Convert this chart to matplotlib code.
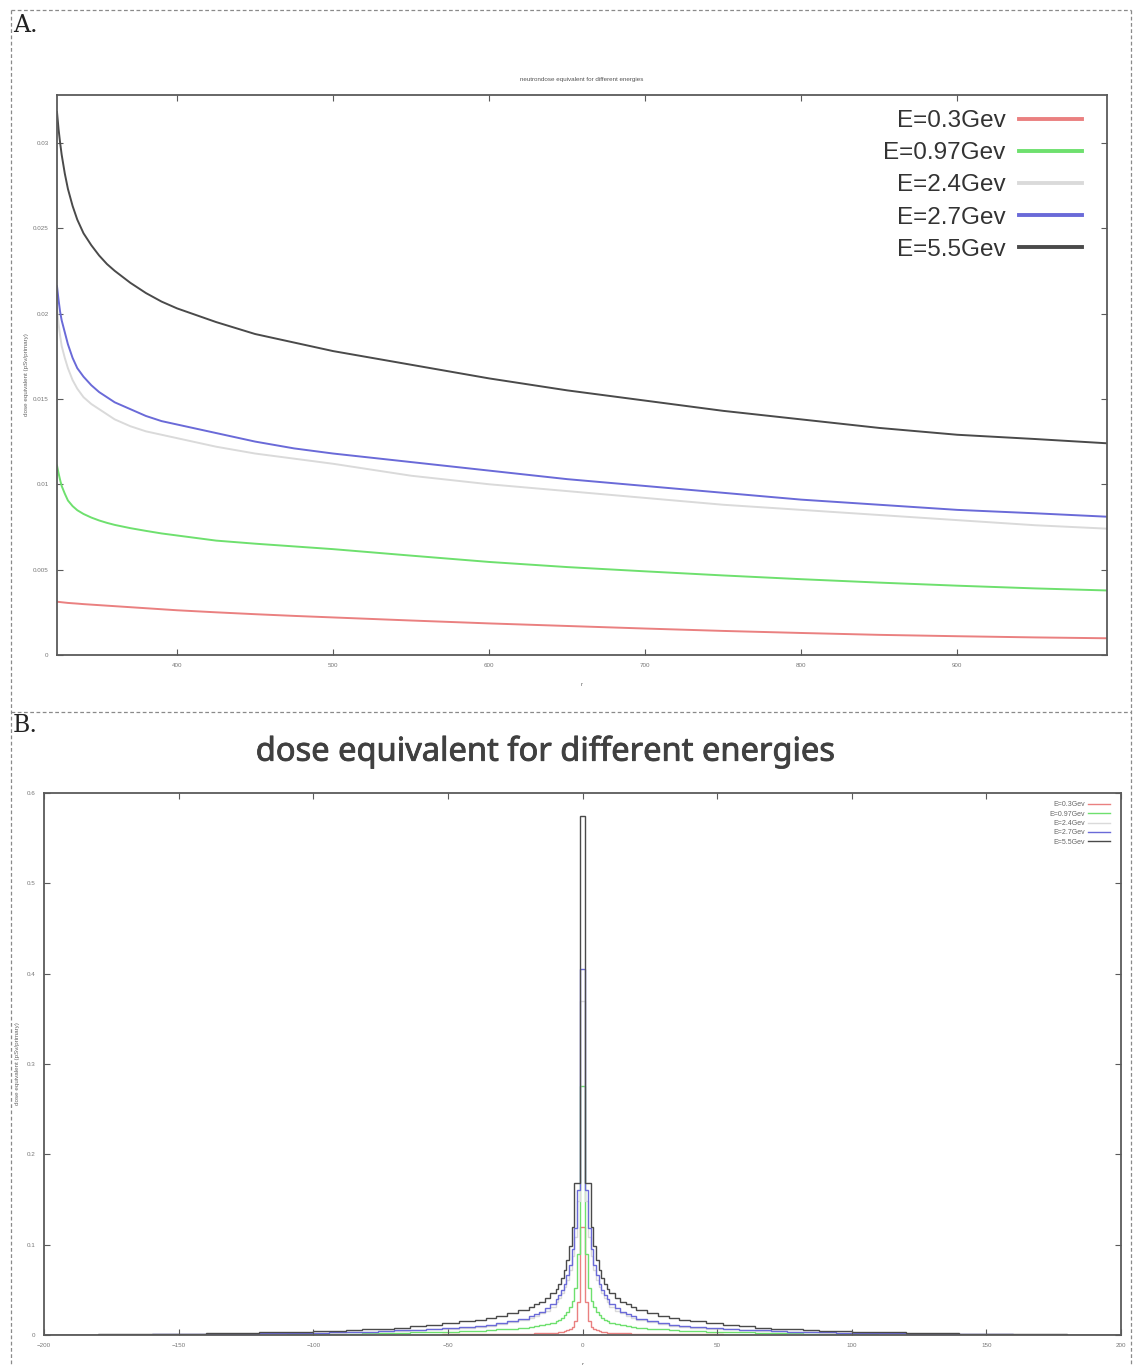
import numpy as np
import matplotlib
matplotlib.use("Agg")
import matplotlib.pyplot as plt
import matplotlib.patheffects as pe
from matplotlib.lines import Line2D

# ---------------- data ----------------
energies = ["E=0.3Gev", "E=0.97Gev", "E=2.4Gev", "E=2.7Gev", "E=5.5Gev"]
colors = ["#ea8080", "#6ee06e", "#dadada", "#6a6ad8", "#4a4a4a"]

# Panel A: neutron dose equivalent vs r
r_a = [323, 324, 325, 326, 328, 330, 333, 336, 340, 345, 350, 355, 360, 370,
       380, 390, 400, 425, 450, 475, 500, 550, 600, 650, 700, 750, 800, 850,
       900, 950, 996]
dose_a_03 = [0.00312, 0.00311, 0.00310, 0.00309, 0.00307, 0.00305, 0.00303,
             0.00301, 0.00298, 0.00295, 0.00292, 0.00289, 0.00286, 0.00280,
             0.00274, 0.00268, 0.00262, 0.00250, 0.00239, 0.00229, 0.00220,
             0.00202, 0.00185, 0.00170, 0.00155, 0.00141, 0.00129, 0.00118,
             0.00110, 0.00103, 0.00098]
dose_a_097 = [0.0111, 0.01065, 0.01025, 0.0099, 0.00945, 0.00905, 0.00872,
              0.00848, 0.00826, 0.00805, 0.00788, 0.00774, 0.00762, 0.00743,
              0.00727, 0.00712, 0.00700, 0.00670, 0.00652, 0.00636, 0.00620,
              0.00582, 0.00545, 0.00515, 0.00490, 0.00466, 0.00444, 0.00424,
              0.00406, 0.00390, 0.00378]
dose_a_24 = [0.0203, 0.0194, 0.0187, 0.0181, 0.0174, 0.0168, 0.0161, 0.0156,
             0.0151, 0.0147, 0.0144, 0.0141, 0.0138, 0.0134, 0.0131, 0.0129,
             0.0127, 0.0122, 0.0118, 0.0115, 0.0112, 0.0105, 0.0100, 0.0096,
             0.0092, 0.0088, 0.0085, 0.0082, 0.0079, 0.0076, 0.0074]
dose_a_27 = [0.0216, 0.0208, 0.0201, 0.0196, 0.0189, 0.0182, 0.0174, 0.0168,
             0.0163, 0.0158, 0.0154, 0.0151, 0.0148, 0.0144, 0.0140, 0.0137,
             0.0135, 0.0130, 0.0125, 0.0121, 0.0118, 0.0113, 0.0108, 0.0103,
             0.0099, 0.0095, 0.0091, 0.0088, 0.0085, 0.0083, 0.0081]
dose_a_55 = [0.0318, 0.0308, 0.0300, 0.0293, 0.0282, 0.0273, 0.0263, 0.0255,
             0.0247, 0.0240, 0.0234, 0.0229, 0.0225, 0.0218, 0.0212, 0.0207,
             0.0203, 0.0195, 0.0188, 0.0183, 0.0178, 0.0170, 0.0162, 0.0155,
             0.0149, 0.0143, 0.0138, 0.0133, 0.0129, 0.01265, 0.0124]

# Panel B: dose equivalent histogram, symmetric about r = 0 (half profile on |r| bin edges)
edges_b = [0, 1, 2, 3, 4, 5, 6, 7, 8, 9, 10, 12, 14, 16, 18, 20, 24, 28, 32,
           36, 40, 46, 52, 58, 64, 70, 76, 82, 88, 94, 100, 110, 120, 130, 140,
           150, 160, 170, 180, 190, 200]
dose_b_03 = [0.120, 0.036, 0.015, 0.009, 0.0065, 0.005, 0.0042, 0.0036, 0.0031,
             0.0027, 0.0024, 0.0021, 0.0019, 0.0017, 0.0015, 0.0013, 0.0011,
             0.0010, 0.0009, 0.0008, 0.0007, 0.0006, 0.0005, 0.0004, 0.0004,
             0.0003, 0.0003, 0.0002, 0.0002, 0.0002, 0.0001, 0.0001, 0.0001,
             0.0001, 0.0, 0.0, 0.0, 0.0, 0.0, 0.0]
dose_b_097 = [0.276, 0.090, 0.052, 0.038, 0.031, 0.026, 0.022, 0.019, 0.017,
              0.015, 0.0135, 0.012, 0.0108, 0.0098, 0.009, 0.008, 0.007, 0.0062,
              0.0055, 0.0049, 0.0043, 0.0037, 0.0032, 0.0028, 0.0024, 0.0021,
              0.0018, 0.0016, 0.0014, 0.0012, 0.0010, 0.0008, 0.0006, 0.0005,
              0.0004, 0.0003, 0.0002, 0.0002, 0.0001, 0.0001]
dose_b_24 = [0.370, 0.148, 0.108, 0.087, 0.072, 0.061, 0.053, 0.046, 0.041,
             0.037, 0.031, 0.027, 0.024, 0.021, 0.019, 0.0165, 0.014, 0.012,
             0.0105, 0.0092, 0.0081, 0.0070, 0.0061, 0.0053, 0.0046, 0.0040,
             0.0035, 0.0031, 0.0027, 0.0023, 0.0019, 0.0016, 0.0013, 0.0010,
             0.0008, 0.0006, 0.0005, 0.0004, 0.0003, 0.0002]
dose_b_27 = [0.405, 0.160, 0.118, 0.095, 0.078, 0.066, 0.057, 0.050, 0.044,
             0.040, 0.034, 0.030, 0.026, 0.023, 0.021, 0.018, 0.015, 0.013,
             0.0115, 0.010, 0.0088, 0.0076, 0.0066, 0.0057, 0.0050, 0.0044,
             0.0038, 0.0033, 0.0029, 0.0025, 0.0021, 0.0017, 0.0014, 0.0011,
             0.0009, 0.0007, 0.0005, 0.0004, 0.0003, 0.0002]
dose_b_55 = [0.575, 0.168, 0.168, 0.120, 0.098, 0.083, 0.072, 0.063, 0.056,
             0.051, 0.046, 0.041, 0.037, 0.034, 0.031, 0.028, 0.024, 0.021,
             0.019, 0.017, 0.015, 0.013, 0.011, 0.0095, 0.0082, 0.0071, 0.0062,
             0.0054, 0.0047, 0.0041, 0.0035, 0.0028, 0.0023, 0.0018, 0.0014,
             0.0011, 0.0008, 0.0006, 0.0004, 0.0003]

series_a = [dose_a_03, dose_a_097, dose_a_24, dose_a_27, dose_a_55]
series_b = [dose_b_03, dose_b_097, dose_b_24, dose_b_27, dose_b_55]

# ---------------- figure ----------------
W, H = 1133, 1365
fig = plt.figure(figsize=(W / 100, H / 100), dpi=100)
fig.patch.set_facecolor("white")

frame_col = "#5a5a5a"
tick_col = "#777777"
sans = ["Liberation Sans", "DejaVu Sans"]


def px_axes(left, top, right, bottom):
    return fig.add_axes([left / W, 1 - bottom / H, (right - left) / W, (bottom - top) / H])


def style_axes(ax):
    for s in ax.spines.values():
        s.set_color(frame_col)
        s.set_linewidth(1.3)
    ax.tick_params(direction="in", top=True, right=True, length=4, width=0.8,
                   colors=frame_col, labelcolor=tick_col, labelsize=4.5, pad=6)
    for lab in ax.get_xticklabels() + ax.get_yticklabels():
        lab.set_family(sans)


# dashed panel borders
def fig_line(x0, y0, x1, y1):
    fig.add_artist(Line2D([x0 / W, x1 / W], [1 - y0 / H, 1 - y1 / H],
                          transform=fig.transFigure, color="#8a8a8a",
                          lw=0.9, ls=(0, (3, 2))))


fig_line(11, 10, 1131, 10)
fig_line(11, 10, 11, 1365)
fig_line(1131, 10, 1131, 1365)
fig_line(11, 712, 1131, 712)

fig.text(13 / W, 1 - 25 / H, "A.", family=["DejaVu Serif"], fontsize=17,
         va="center", ha="left", color="#222222")
fig.text(13 / W, 1 - 726 / H, "B.", family=["DejaVu Serif"], fontsize=17,
         va="center", ha="left", color="#222222")

# ---------------- panel A ----------------
axA = px_axes(57, 95, 1107, 655)
for vals, c, lab in zip(series_a, colors, energies):
    axA.plot(r_a, vals, color=c, lw=1.4, label=lab)
axA.set_xlim(323, 996)
axA.set_ylim(0, 0.0328)
axA.set_xticks([400, 500, 600, 700, 800, 900])
axA.set_yticks([0, 0.005, 0.01, 0.015, 0.02, 0.025, 0.03])
axA.set_yticklabels(["0", "0.005", "0.01", "0.015", "0.02", "0.025", "0.03"])
style_axes(axA)
axA.set_title("neutrondose equivalent for different energies", fontsize=4.5,
              family=sans, color="#555555", pad=10)
axA.set_ylabel("dose equivalent (pSv/primary)", fontsize=4.5, family=sans,
               color="#666666", labelpad=3)
axA.set_xlabel("r", fontsize=4.5, family=sans, color="#666666", labelpad=10)

legA = axA.legend(loc="upper right", bbox_to_anchor=(1025 / 1050, (655 - 110) / 560),
                  frameon=False, markerfirst=False, borderpad=0, borderaxespad=0,
                  prop={"family": sans, "size": 17.5}, handlelength=2.6,
                  handletextpad=0.55, labelspacing=0.42)
for t in legA.get_texts():
    t.set_color("#333333")
for ln in legA.get_lines():
    ln.set_linewidth(2.8)

# ---------------- panel B ----------------
axB = px_axes(44, 793, 1121, 1335)
e = np.array(edges_b, dtype=float)
full_edges = np.concatenate([-e[::-1], e[1:]])
for vals, c, lab in zip(series_b, colors, energies):
    v = np.array(vals, dtype=float)
    full_vals = np.concatenate([v[::-1], v])
    axB.stairs(full_vals, full_edges, color=c, lw=1.0, label=lab)
axB.set_xlim(-200, 200)
axB.set_ylim(0, 0.6)
axB.set_xticks([-200, -150, -100, -50, 0, 50, 100, 150, 200])
axB.set_yticks([0, 0.1, 0.2, 0.3, 0.4, 0.5, 0.6])
axB.set_yticklabels(["0", "0.1", "0.2", "0.3", "0.4", "0.5", "0.6"])
style_axes(axB)
axB.set_ylabel("dose equivalent (pSv/primary)", fontsize=4.5, family=sans,
               color="#666666", labelpad=5)
axB.set_xlabel("r", fontsize=4.5, family=sans, color="#666666", labelpad=10)

fig.text(545 / W, 1 - 752 / H, "dose equivalent for different energies",
         ha="center", va="center", fontsize=23.5, family=["Noto Sans", "DejaVu Sans"],
         color="#404040",
         path_effects=[pe.withStroke(linewidth=0.6, foreground="#404040")])

legB = axB.legend(loc="upper right", bbox_to_anchor=(0.99, 0.985), frameon=False,
                  markerfirst=False, borderpad=0, borderaxespad=0,
                  prop={"family": sans, "size": 5}, handlelength=3.2,
                  handletextpad=0.5, labelspacing=0.35)
for t in legB.get_texts():
    t.set_color("#666666")

fig.savefig("out.png", dpi=100)
